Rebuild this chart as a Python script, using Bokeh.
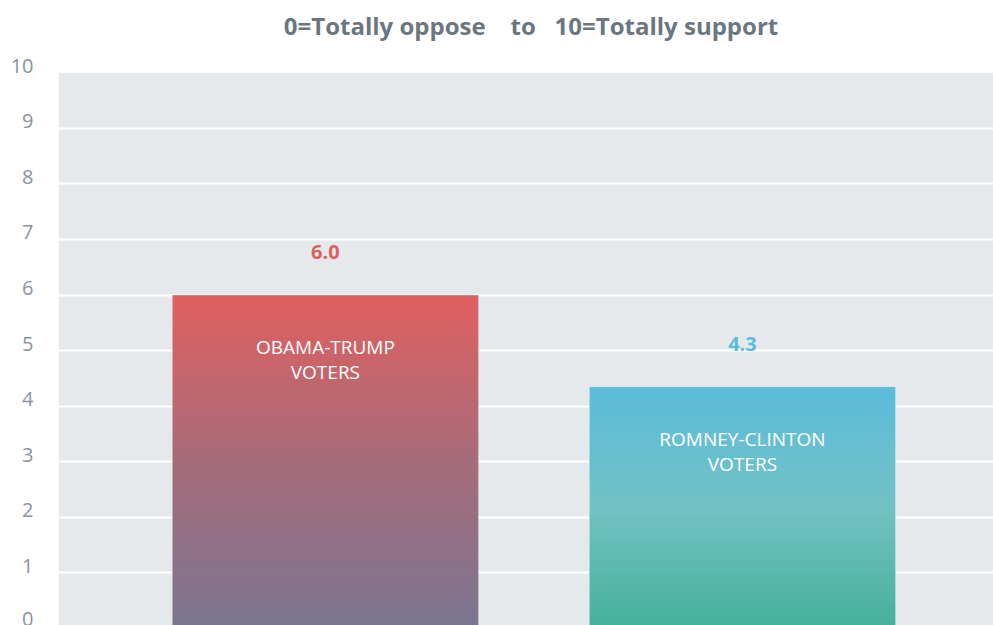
import numpy as np
from bokeh.plotting import figure
from bokeh.models import Range1d, FixedTicker, ColumnDataSource, LinearAxis, BoxAnnotation
from bokeh.core.properties import value
from bokeh.embed import file_html
from bokeh.resources import INLINE

# ---- data ----
groups = ["OBAMA-TRUMP\nVOTERS", "ROMNEY-CLINTON\nVOTERS"]
scores = [6.0, 4.35]
score_labels = ["6.0", "4.3"]
y_ticks = [0, 1, 2, 3, 4, 5, 6, 7, 8, 9, 10]
title_text = "0=Totally oppose\u00a0\u00a0\u00a0\u00a0to\u00a0\u00a0\u00a010=Totally support"

# ---- styles ----
grad_stops = [
    ["#e06060", "#a66c7a", "#7b7591"],  # top, middle, bottom
    ["#5cbcdb", "#72c2c4", "#46b09b"],
]
value_colors = ["#e05f5f", "#5bbcda"]
bg = "#e5e9ec"
font = "Open Sans"

x_pos = [0, 1]
bar_w = 0.734
x_start, x_end = -0.64, 1.602
px_per_unit = 55.3
panel_top_px = 72                       # grey panel starts 72px below the top
y_top = 10 + panel_top_px / px_per_unit # frame spans whole height; white above the panel
d = 7 / px_per_unit                     # tick labels sit ~7px above their gridlines

p = figure(width=993, height=625, output_backend="svg", toolbar_location=None,
           x_range=Range1d(x_start, x_end), y_range=Range1d(0.05, y_top),
           min_border_left=58, min_border_right=0, min_border_top=0, min_border_bottom=0,
           background_fill_color="white", border_fill_color="white", outline_line_color=None,
           y_axis_location=None, x_axis_location=None)

# grey plotting panel from 0 to 10
p.add_layout(BoxAnnotation(top=max(y_ticks), fill_color=bg, fill_alpha=1, line_color=None, level="image"))

p.xgrid.visible = False
p.ygrid.ticker = FixedTicker(ticks=y_ticks[1:-1])
p.ygrid.grid_line_color = "white"
p.ygrid.grid_line_width = 2

p.extra_y_ranges = {"lab": Range1d(0.05 - d, y_top - d)}
ax = LinearAxis(y_range_name="lab", ticker=FixedTicker(ticks=y_ticks))
ax.axis_line_color = None
ax.major_tick_line_color = None
ax.minor_tick_line_color = None
ax.major_label_standoff = 19
ax.major_label_text_font = font
ax.major_label_text_font_size = "20px"
ax.major_label_text_color = "#8a949d"
p.add_layout(ax, "left")

def hex2rgb(h):
    return np.array([int(h[i:i + 2], 16) for i in (1, 3, 5)], dtype=float)

def grad_color(stops, t):
    # t: 0 at top, 1 at bottom
    n = len(stops) - 1
    seg = min(int(t * n), n - 1)
    lt = t * n - seg
    c = hex2rgb(stops[seg]) * (1 - lt) + hex2rgb(stops[seg + 1]) * lt
    return "#%02x%02x%02x" % tuple(int(round(v)) for v in c)

N = 120
l, r, b, t, cols = [], [], [], [], []
for xi, v, stops in zip(x_pos, scores, grad_stops):
    h = v / N
    for k in range(N):
        bot = k * h
        top = min(v, bot + h * 1.6)
        l.append(xi - bar_w / 2)
        r.append(xi + bar_w / 2)
        b.append(bot)
        t.append(top)
        cols.append(grad_color(stops, 1 - (k + 0.5) / N))
p.quad(left=l, right=r, bottom=b, top=t, fill_color=cols, line_color=None)

# faint bar edges
p.quad(left=[x - bar_w / 2 for x in x_pos], right=[x + bar_w / 2 for x in x_pos],
       bottom=[0, 0], top=scores, fill_color=None, line_color="white", line_alpha=0.35, line_width=1)

# value labels above bars
src = ColumnDataSource(dict(x=x_pos, y=scores, lab=score_labels, c=value_colors, g=groups))
p.text(x="x", y="y", text="lab", source=src, text_color="c", text_align="center",
       text_baseline="middle", y_offset=-43, text_font=value(font), text_font_size="20px",
       text_font_style="bold")

# group labels inside bars
p.text(x="x", y="y", text="g", source=src, text_color="white", text_align="center",
       text_baseline="top", y_offset=39, text_font=value(font), text_font_size="19px",
       text_line_height=0.97)

# chart title, centred over the panel, in the white band above it
p.text(x=[(x_start + x_end) / 2], y=[y_top], text=[title_text], text_align="center",
       text_baseline="middle", x_offset=5, y_offset=25, text_font=value(font),
       text_font_size="24px", text_font_style="bold", text_color="#6b7680")

open("out.html", "w").write(file_html(p, INLINE))
